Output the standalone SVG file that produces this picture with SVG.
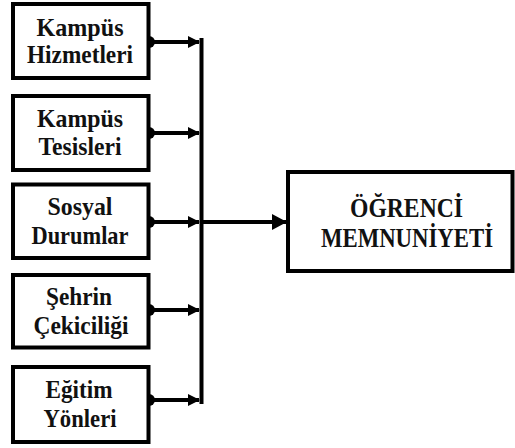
<svg xmlns="http://www.w3.org/2000/svg" width="515" height="448" viewBox="0 0 515 448">
  <defs>
    <style>
      .box { fill: #ffffff; stroke: #000000; stroke-width: 4; }
      .wire { fill: none; stroke: #000000; stroke-width: 4; }
      .dot { fill: #000000; }
    </style>
    <marker id="head" viewBox="0 0 12 12" refX="11" refY="6" markerWidth="12" markerHeight="12" markerUnits="userSpaceOnUse" orient="auto">
      <path d="M0,0 L12,6 L0,12 Z" fill="#000000"/>
    </marker>
    <marker id="headBig" viewBox="0 0 15 16" refX="14" refY="8" markerWidth="15" markerHeight="16" markerUnits="userSpaceOnUse" orient="auto">
      <path d="M0,0 L15,8 L0,16 Z" fill="#000000"/>
    </marker>
  </defs>

  <rect width="515" height="448" fill="#ffffff"/>

  <!-- connectors: factor outputs into the collecting bus, bus into the result box -->
  <g id="connectors">
    <path class="wire" d="M201.5,38 V404"/>
    <line class="wire" x1="149" y1="42" x2="199" y2="42" marker-end="url(#head)"/>
    <line class="wire" x1="149" y1="133" x2="199" y2="133" marker-end="url(#head)"/>
    <line class="wire" x1="149" y1="222" x2="199" y2="222" marker-end="url(#head)"/>
    <line class="wire" x1="149" y1="310" x2="199" y2="310" marker-end="url(#head)"/>
    <line class="wire" x1="149" y1="400" x2="199" y2="400" marker-end="url(#head)"/>
    <line class="wire" x1="201.5" y1="222" x2="286" y2="222" marker-end="url(#headBig)"/>
    <circle class="dot" cx="149" cy="42" r="6"/>
    <circle class="dot" cx="149" cy="133" r="6"/>
    <circle class="dot" cx="149" cy="222" r="6"/>
    <circle class="dot" cx="149" cy="310" r="6"/>
    <circle class="dot" cx="149" cy="400" r="6"/>
  </g>

  <!-- factor boxes -->
  <g font-family="Liberation Serif, Times New Roman, serif" font-weight="bold" font-size="26" fill="#111111" text-anchor="middle">
    <g id="kampus-hizmetleri">
      <rect class="box" x="13" y="4" width="135.5" height="74"/>
      <text x="80" y="35.5" textLength="87" lengthAdjust="spacingAndGlyphs">Kampüs</text>
      <text x="80" y="63" textLength="106" lengthAdjust="spacingAndGlyphs">Hizmetleri</text>
    </g>

    <g id="kampus-tesisleri">
      <rect class="box" x="13" y="96" width="135.5" height="74"/>
      <text x="80" y="127" textLength="86" lengthAdjust="spacingAndGlyphs">Kampüs</text>
      <text x="80" y="155" textLength="83" lengthAdjust="spacingAndGlyphs">Tesisleri</text>
    </g>

    <g id="sosyal-durumlar">
      <rect class="box" x="13" y="184.5" width="135.5" height="73.5"/>
      <text x="80" y="215" textLength="65" lengthAdjust="spacingAndGlyphs">Sosyal</text>
      <text x="80" y="244" textLength="97" lengthAdjust="spacingAndGlyphs">Durumlar</text>
    </g>

    <g id="sehrin-cekiciligi">
      <rect class="box" x="13" y="275" width="135.5" height="72.5"/>
      <text x="79" y="305" textLength="66" lengthAdjust="spacingAndGlyphs">Şehrin</text>
      <text x="81" y="334" textLength="95" lengthAdjust="spacingAndGlyphs">Çekiciliği</text>
    </g>

    <g id="egitim-yonleri">
      <rect class="box" x="13" y="367" width="135.5" height="75"/>
      <text x="79" y="398" textLength="67" lengthAdjust="spacingAndGlyphs">Eğitim</text>
      <text x="80" y="427" textLength="73" lengthAdjust="spacingAndGlyphs">Yönleri</text>
    </g>

    <!-- result box -->
    <g id="ogrenci-memnuniyeti" font-size="28">
      <rect class="box" x="288" y="172" width="224.5" height="99"/>
      <text x="406.5" y="217" textLength="113" lengthAdjust="spacingAndGlyphs">ÖĞRENCİ</text>
      <text x="407" y="247" textLength="172" lengthAdjust="spacingAndGlyphs">MEMNUNİYETİ</text>
    </g>
  </g>
</svg>
